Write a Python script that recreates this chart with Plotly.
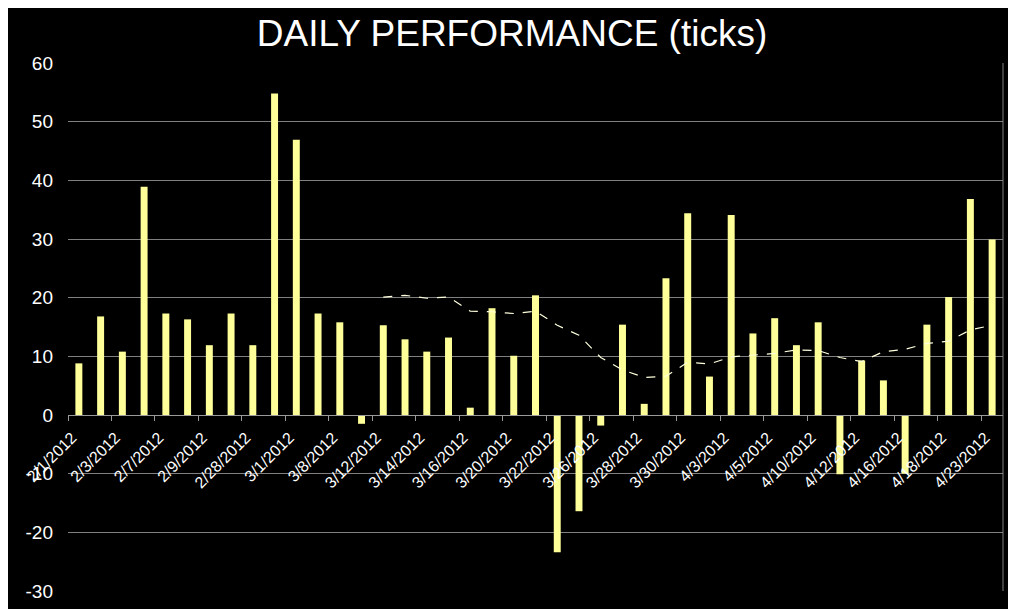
import plotly.graph_objects as go

# trading days (only every other one gets a label on the axis)
dates = ['2/1/2012', '2/2/2012', '2/3/2012', '2/6/2012', '2/7/2012', '2/8/2012',
         '2/9/2012', '2/10/2012', '2/28/2012', '2/29/2012', '3/1/2012', '3/7/2012',
         '3/8/2012', '3/9/2012', '3/12/2012', '3/13/2012', '3/14/2012', '3/15/2012',
         '3/16/2012', '3/19/2012', '3/20/2012', '3/21/2012', '3/22/2012', '3/23/2012',
         '3/26/2012', '3/27/2012', '3/28/2012', '3/29/2012', '3/30/2012', '4/2/2012',
         '4/3/2012', '4/4/2012', '4/5/2012', '4/9/2012', '4/10/2012', '4/11/2012',
         '4/12/2012', '4/13/2012', '4/16/2012', '4/17/2012', '4/18/2012', '4/20/2012',
         '4/23/2012']

# daily result in ticks
ticks = [8.8, 16.8, 10.8, 38.9, 17.3, 16.3, 11.9, 17.3, 11.9, 54.8,
         46.9, 17.3, 15.8, -1.5, 15.3, 12.9, 10.8, 13.2, 1.25, 18.2,
         10.1, 20.4, -23.4, -16.4, -1.8, 15.4, 1.9, 23.3, 34.4, 6.55,
         34.1, 13.9, 16.5, 11.9, 15.8, -10.1, 9.3, 5.9, -10.0, 15.4,
         20.1, 36.8, 29.9]

# 15 day moving average (starts on the 15th day)
ma_dates = dates[14:]
ma_values = [20.1, 20.4, 19.9, 20.1, 17.7, 17.6, 17.3, 17.7, 15.3, 13.6,
             9.8, 7.7, 6.4, 6.6, 9.0, 8.7, 9.9, 10.2, 10.5, 11.1,
             11.0, 9.8, 9.1, 10.8, 11.2, 12.2, 12.6, 14.5, 15.3]

y_ticks = [-30, -20, -10, 0, 10, 20, 30, 40, 50, 60]

fig = go.Figure()
fig.add_trace(go.Bar(x=dates, y=ticks, marker_color='#FFFF99', marker_line_width=0,
                     name='ticks'))
fig.add_trace(go.Scatter(x=ma_dates, y=ma_values, mode='lines',
                         line=dict(color='#FFFFDD', width=1.2, dash='dash'),
                         name='15 per. Mov. Avg.'))

# the page body adds an 8px margin top/left, so the figure is 8px smaller than the window
fig.update_layout(
    width=1008, height=601,
    margin=dict(l=60, r=13, t=55, b=18),
    paper_bgcolor='black', plot_bgcolor='black',
    showlegend=False, bargap=0.68,
    font=dict(family='Liberation Sans, Arial, sans-serif', color='white'),
    title=dict(text='DAILY PERFORMANCE (ticks)', x=0.5, xanchor='center',
               y=0.958, yanchor='middle', font=dict(size=37, color='white')),
)
fig.update_xaxes(
    type='category', anchor='free', position=1/3, automargin=False,
    showline=True, linecolor='#9a9a9a', linewidth=1,
    ticks='outside', ticklen=5, tickcolor='#9a9a9a', tickson='boundaries',
    dtick=2, tickangle=-45, ticklabelstandoff=6, ticklabelshift=-7,
    tickfont=dict(size=16, color='white'),
    showgrid=False, zeroline=False,
)
fig.update_yaxes(
    range=[-30, 60], tickvals=y_ticks, ticktext=[str(v) for v in y_ticks],
    automargin=False,
    showgrid=True, gridcolor='#808080', gridwidth=1,
    zeroline=False, showline=False, ticks='',
    ticklabelstandoff=14, tickfont=dict(size=19, color='white'),
)
# right border of the plot area
fig.add_shape(type='line', xref='paper', yref='paper', x0=1, x1=1, y0=0, y1=1,
              line=dict(color='#808080', width=1))

fig.write_html("out.html")
